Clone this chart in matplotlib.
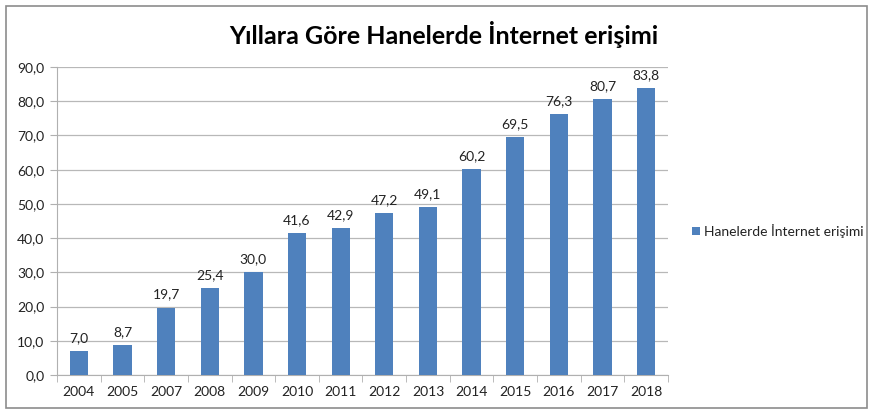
import matplotlib
matplotlib.use("Agg")
import matplotlib.pyplot as plt
from matplotlib.patches import Rectangle

years = ["2004", "2005", "2007", "2008", "2009", "2010", "2011", "2012", "2013", "2014", "2015", "2016", "2017", "2018"]
values = [7.0, 8.7, 19.7, 25.4, 30.0, 41.6, 42.9, 47.2, 49.1, 60.2, 69.5, 76.3, 80.7, 83.8]
title = "Yıllara Göre Hanelerde İnternet erişimi"
series_name = "Hanelerde İnternet erişimi"
yticks = [0, 10, 20, 30, 40, 50, 60, 70, 80, 90]

plt.rcParams['font.family'] = ['Lato', 'DejaVu Sans']
W, H = 870, 412
fig = plt.figure(figsize=(W/100, H/100), dpi=100)
fig.patch.set_facecolor('white')

# outer border
fig.add_artist(Rectangle((6/W, 1 - 408/H), (867-6)/W, (408-6)/H, transform=fig.transFigure,
                         fill=False, edgecolor='#8c8c8c', linewidth=1.2))

x0, x1 = 57, 668
ytop, ybot = 67, 375
ax = fig.add_axes([x0/W, 1 - ybot/H, (x1-x0)/W, (ybot-ytop)/H])
color = '#4F81BD'
xs = list(range(len(years)))
bars = ax.bar(xs, values, width=0.42, color=color, zorder=3)
ax.set_xlim(-0.5, len(years) - 0.5)
ax.set_ylim(0, 90)
ax.set_yticks(yticks)
ax.set_yticklabels([f"{v:.1f}".replace('.', ',') for v in yticks], fontsize=10, color='#222222')
ax.set_xticks(xs)
ax.set_xticklabels(years, fontsize=10, color='#222222')
ax.tick_params(axis='x', length=0, pad=8)
ax.tick_params(axis='y', length=5, color='#b0b0b0', pad=4)
ax.set_xticks([i + 0.5 for i in range(-1, len(years))], minor=True)
ax.tick_params(axis='x', which='minor', length=5, color='#b0b0b0')
ax.yaxis.grid(True, color='#b8b8b8', linewidth=0.9, zorder=0)
for s in ['top', 'right']:
    ax.spines[s].set_visible(False)
ax.spines['left'].set_color('#b0b0b0')
ax.spines['bottom'].set_color('#b0b0b0')

for xi, v in zip(xs, values):
    ax.annotate(f"{v:.1f}".replace('.', ','), (xi, v), xytext=(0, 5), textcoords='offset points',
                ha='center', va='bottom', fontsize=10, color='#222222')

fig.text(444/W, 1 - 35/H, title, ha='center', va='center', fontsize=18, fontweight='bold', color='black')

# legend
fig.add_artist(Rectangle((692/W, 1 - 235/H), 8/W, 8/H, transform=fig.transFigure,
                         facecolor=color, edgecolor='none'))
fig.text(704/W, 1 - 231/H, series_name, ha='left', va='center', fontsize=10, color='#222222')

fig.savefig("out.png", dpi=100)
